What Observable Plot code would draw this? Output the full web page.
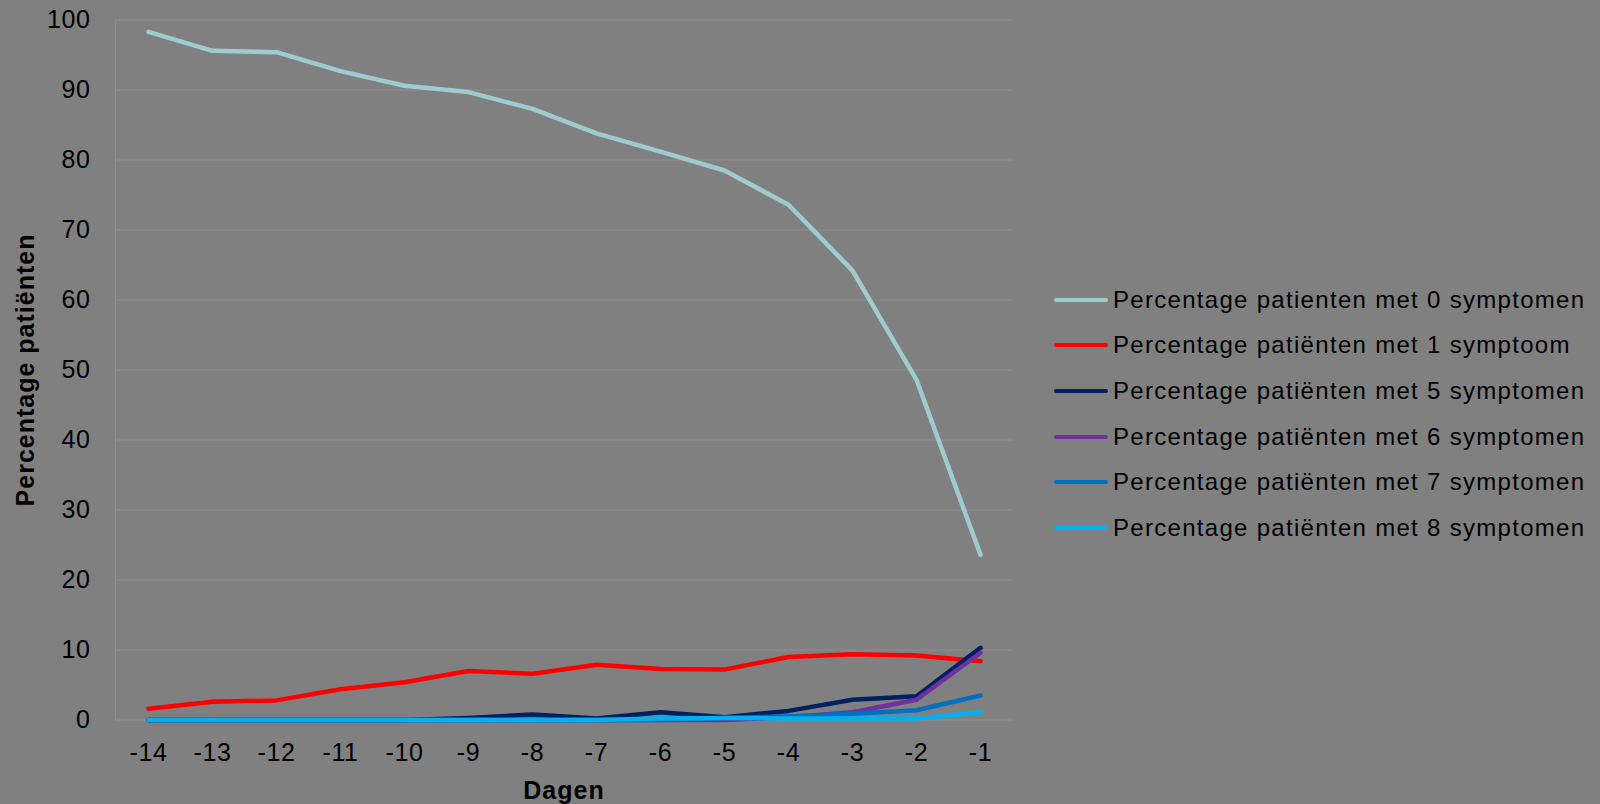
<!DOCTYPE html>
<html>
<head>
<meta charset="utf-8">
<script src="https://cdn.jsdelivr.net/npm/d3@7"></script>
<script src="https://cdn.jsdelivr.net/npm/@observablehq/plot@0.6"></script>
<style>
  html, body { margin: 0; padding: 0; background: #808080; }
  #wrap { position: relative; width: 1600px; height: 804px; background: #808080; font-family: "Liberation Sans", Arial, sans-serif; color: #000; overflow: hidden; }
  #chart { position: absolute; left: 0; top: 0; }
  #chart svg text { letter-spacing: 0.6px; }
  .title { position: absolute; font-weight: bold; font-size: 25px; white-space: nowrap; line-height: 1; letter-spacing: 1px; }
  #xtitle { left: 564px; top: 790px; transform: translate(-50%, -50%); }
  #ytitle { left: 25px; top: 370px; transform: translate(-50%, -50%) rotate(-90deg); }
  #legend { position: absolute; left: 1054px; top: 277px; font-size: 24px; letter-spacing: 1.3px; }
  .row { display: flex; align-items: center; height: 45.6px; white-space: nowrap; }
  .swatch { width: 54px; height: 4px; margin-right: 5px; border-radius: 2px; }
</style>
</head>
<body>
<div id="wrap">
  <div id="chart"></div>
  <div id="xtitle" class="title">Dagen</div>
  <div id="ytitle" class="title">Percentage patiënten</div>
  <div id="legend"></div>
</div>
<script>
const days = ["-14", "-13", "-12", "-11", "-10", "-9", "-8", "-7", "-6", "-5", "-4", "-3", "-2", "-1"];
const yTicks = [0, 10, 20, 30, 40, 50, 60, 70, 80, 90, 100];

const seriesNames = [
  "Percentage patienten met 0 symptomen",
  "Percentage patiënten met 1 symptoom",
  "Percentage patiënten met 5 symptomen",
  "Percentage patiënten met 6 symptomen",
  "Percentage patiënten met 7 symptomen",
  "Percentage patiënten met 8 symptomen"
];
const seriesColors = ["#9ecbd0", "#ff0000", "#002060", "#7030a0", "#0070c0", "#00b0f0"];

const s0 = [98.3, 95.6, 95.4, 92.7, 90.6, 89.7, 87.3, 83.8, 81.2, 78.5, 73.6, 64.2, 48.6, 23.6];
const s1 = [1.6, 2.6, 2.8, 4.4, 5.4, 7.0, 6.6, 7.9, 7.3, 7.2, 9.0, 9.4, 9.2, 8.4];
const s5 = [0, 0, 0, 0, 0, 0.3, 0.8, 0.2, 1.1, 0.4, 1.3, 2.9, 3.4, 10.3];
const s6 = [0, 0, 0, 0, 0, 0, 0, 0, 0, 0, 0.4, 1.1, 2.9, 9.6];
const s7 = [0, 0, 0, 0, 0, 0, 0, 0, 0, 0.3, 0.5, 0.9, 1.4, 3.5];
const s8 = [0, 0, 0, 0, 0, 0, 0, 0, 0.2, 0.3, 0.2, 0.2, 0.2, 1.1];

const allSeries = [s0, s1, s5, s6, s7, s8];
const data = allSeries.flatMap((vals, i) =>
  vals.map((v, j) => ({ day: days[j], value: v, series: seriesNames[i] }))
);

const chart = Plot.plot({
  width: 1600,
  height: 804,
  marginLeft: 115,
  marginRight: 587,
  marginTop: 19.5,
  marginBottom: 84.5,
  style: {
    background: "#808080",
    color: "#000",
    fontFamily: "'Liberation Sans', Arial, sans-serif",
    fontSize: "25px",
    overflow: "visible"
  },
  x: { type: "point", domain: days, padding: 0.5, tickSize: 0, tickPadding: 23, label: null },
  y: { domain: [0, 100], ticks: yTicks, tickSize: 0, tickPadding: 25, label: null },
  color: { domain: seriesNames, range: seriesColors },
  marks: [
    Plot.gridY(yTicks, { stroke: "#8d8d8d", strokeOpacity: 1, strokeWidth: 1 }),
    Plot.frame({ anchor: "left", stroke: "#8d8d8d", strokeWidth: 1 }),
    Plot.line(data, {
      x: "day",
      y: "value",
      z: "series",
      stroke: "series",
      strokeWidth: 4.5,
      strokeLinejoin: "round",
      strokeLinecap: "round"
    })
  ]
});
document.getElementById("chart").appendChild(chart);

const legend = document.getElementById("legend");
seriesNames.forEach((name, i) => {
  const row = document.createElement("div");
  row.className = "row";
  const sw = document.createElement("span");
  sw.className = "swatch";
  sw.style.background = seriesColors[i];
  const label = document.createElement("span");
  label.textContent = name;
  row.appendChild(sw);
  row.appendChild(label);
  legend.appendChild(row);
});
</script>
</body>
</html>
